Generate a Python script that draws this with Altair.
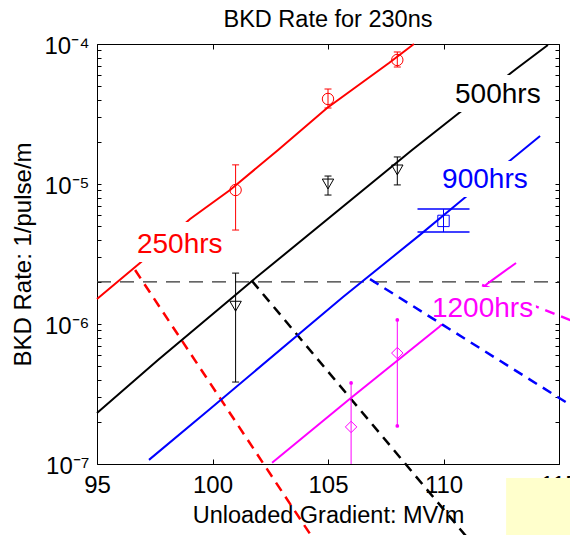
import math
import altair as alt
import pandas as pd

FONT = "Liberation Sans"

# ---------------- series ----------------
series_names = ["250hrs", "500hrs", "900hrs", "1200hrs"]
series_colors = ["#ff0000", "#000000", "#0000ff", "#ff00ff"]
series_shapes = ["circle", "triangle-down", "square", "diamond"]

# ---------------- fitted curves (solid) ----------------
fit250_x = [95.00, 96.86, 99.03, 100.76, 102.84, 104.96, 107.64, 108.72]
fit250_y = [1.51e-6, 2.73e-6, 5.62e-6, 9.06e-6, 1.75e-5, 3.49e-5, 7.31e-5, 1.00e-4]
fit500_x = [95.00, 97.64, 100.89, 101.71, 108.64, 110.67, 113.14, 114.52]
fit500_y = [2.31e-7, 5.53e-7, 1.56e-6, 2.03e-6, 1.75e-5, 3.21e-5, 6.63e-5, 9.84e-5]
fit900_x = [97.25, 99.89, 105.65, 108.98, 110.80, 114.18]
fit900_y = [1.07e-7, 2.47e-7, 1.56e-6, 4.33e-6, 7.69e-6, 2.20e-5]
fit1200_x = [102.58, 105.99, 109.81, 111.93, 113.14]
fit1200_y = [1.02e-7, 2.96e-7, 9.52e-7, 1.96e-6, 2.73e-6]

# ---------------- extrapolations (dashed) ----------------
ext250_x = [96.65, 104.48]
ext250_y = [2.43e-6, 2.73e-8]
ext500_x = [101.71, 111.19]
ext500_y = [2.03e-6, 2.77e-8]
ext900_x = [106.82, 115.91]
ext900_y = [2.09e-6, 2.39e-7]
ext1200_x = [111.67, 115.91]
ext1200_y = [1.90e-6, 1.00e-6]

threshold_x = [95, 115]
threshold_rate = 2.0e-6

# ---------------- measurements ----------------
meas_series = ["250hrs"] * 3 + ["500hrs"] * 3 + ["900hrs"] + ["1200hrs"] * 2
meas_x = [101, 105, 108, 101, 105, 108, 110, 106, 108]
meas_y = [9.06e-6, 4.05e-5, 7.69e-5, 1.34e-6, 1.00e-5, 1.26e-5, 5.45e-6, 1.84e-7, 6.20e-7]
meas_lo = [4.69e-6, 3.49e-5, 6.85e-5, 3.85e-7, 8.34e-6, 9.85e-6, 4.54e-6, 8.0e-8, 1.87e-7]
meas_hi = [1.37e-5, 4.77e-5, 8.77e-5, 2.31e-6, 1.14e-5, 1.56e-5, 6.62e-6, 3.79e-7, 1.07e-6]

# ---------------- curve labels ----------------
label_x = [96.73, 110.50, 109.94, 109.50]
label_y = [3.21e-6, 3.79e-5, 9.36e-6, 1.12e-6]
box_x0 = [96.60, 110.37, 109.81, 109.37]
box_x1 = [100.58, 114.35, 113.79, 114.00]
box_y0 = [2.77e-6, 3.27e-5, 8.07e-6, 1.00e-6]
box_y1 = [5.35e-6, 6.01e-5, 1.46e-5, 1.84e-6]

# chart title, placed centred just above the frame
chart_title = ["BKD Rate for 230ns"]
title_x = [105.0]
title_y = [1.32e-4]

# sticky note in the corner of the slide
note_x = [112.71, 117.0]
note_y = [7.94e-8, 1.0e-8]

# ---------------- axes ----------------
x_ticks = [95, 100, 105, 110, 115]
y_major = [1e-7, 1e-6, 1e-5, 1e-4]
y_major_labels = ["10⁻⁷", "10⁻⁶", "10⁻⁵", "10⁻⁴"]
y_ticks = [m * 10.0 ** e for e in (-7, -6, -5) for m in range(1, 10)] + [1e-4]

label_expr = "''"
for v, lab in zip(y_major, y_major_labels):
    p = round(math.log10(v))
    label_expr = f"abs(log(datum.value)/LN10 - ({p})) < 0.001 ? '{lab}' : " + label_expr

# ---------------- frames ----------------
fit_df = pd.concat([
    pd.DataFrame({"x": fx, "y": fy, "s": n})
    for fx, fy, n in [(fit250_x, fit250_y, "250hrs"), (fit500_x, fit500_y, "500hrs"),
                      (fit900_x, fit900_y, "900hrs"), (fit1200_x, fit1200_y, "1200hrs")]
], ignore_index=True)
ext_df = pd.concat([
    pd.DataFrame({"x": fx, "y": fy, "s": n})
    for fx, fy, n in [(ext250_x, ext250_y, "250hrs"), (ext500_x, ext500_y, "500hrs"),
                      (ext900_x, ext900_y, "900hrs"), (ext1200_x, ext1200_y, "1200hrs")]
], ignore_index=True)
thr_df = pd.DataFrame({"x": threshold_x, "y": [threshold_rate] * len(threshold_x)})
meas_df = pd.DataFrame({"s": meas_series, "x": meas_x, "y": meas_y, "lo": meas_lo, "hi": meas_hi})
cap_df = pd.concat([
    pd.DataFrame({"s": meas_series, "x": meas_x, "y": meas_lo}),
    pd.DataFrame({"s": meas_series, "x": meas_x, "y": meas_hi}),
], ignore_index=True)
label_df = pd.DataFrame({"s": series_names, "lx": label_x, "ly": label_y,
                         "bx0": box_x0, "bx1": box_x1, "by0": box_y0, "by1": box_y1})
title_df = pd.DataFrame({"t": chart_title, "x": title_x, "y": title_y})
note_df = pd.DataFrame({"x0": [note_x[0]], "x1": [note_x[1]], "y0": [note_y[0]], "y1": [note_y[1]]})

xs = alt.Scale(domain=[95, 115], nice=False, zero=False)
ys = alt.Scale(type="log", domain=[1e-7, 1e-4], nice=False)
col = alt.Color("s:N", scale=alt.Scale(domain=series_names, range=series_colors), legend=None)
shp = alt.Shape("s:N", scale=alt.Scale(domain=series_names, range=series_shapes), legend=None)

X0 = alt.X("x:Q", scale=xs, axis=None)
Y0 = alt.Y("y:Q", scale=ys, axis=None)

x_axis = alt.Axis(orient="bottom", values=x_ticks, format="d", title="Unloaded Gradient: MV/m",
                  grid=False, domain=False, offset=-5, tickSize=5, tickColor="black",
                  labelFontSize=24, labelFont=FONT, labelColor="black", labelPadding=9,
                  labelFlush=False, labelOverlap=False,
                  titleFontSize=23.5, titleFont=FONT, titleFontWeight="normal",
                  titleColor="black", titlePadding=6)
y_axis = alt.Axis(orient="left", values=y_ticks, labelExpr=label_expr, title="BKD Rate: 1/pulse/m",
                  grid=False, domain=False, offset=-4, tickSize=4, tickColor="black",
                  labelFontSize=24, labelFont=FONT, labelColor="black", labelPadding=8,
                  labelOffset=2, labelFlush=False, labelOverlap=False,
                  titleFontSize=24, titleFont=FONT, titleFontWeight="normal",
                  titleColor="black", titlePadding=8)
x_top = alt.Axis(orient="top", values=x_ticks, labels=False, title="", titlePadding=0, grid=False,
                 domain=False, offset=-5, tickSize=5, tickColor="black")
y_right = alt.Axis(orient="right", values=y_ticks, labels=False, title="", titlePadding=0, grid=False,
                   domain=False, offset=-4, tickSize=4, tickColor="black")

threshold = alt.Chart(thr_df).mark_line(color="#333333", strokeWidth=1.3, strokeDash=[14, 9]).encode(
    x=alt.X("x:Q", scale=xs, axis=x_axis),
    y=alt.Y("y:Q", scale=ys, axis=y_axis),
)

ext_main = alt.Chart(ext_df).transform_filter("datum.s != '900hrs'").mark_line(
    strokeWidth=2.5, strokeDash=[10, 7], clip=False).encode(x=X0, y=Y0, color=col)
ext_blue = alt.Chart(ext_df).transform_filter("datum.s == '900hrs'").mark_line(
    strokeWidth=2.5, strokeDash=[10, 7], clip=False).encode(x=X0, y=Y0, color=col)

fits = alt.Chart(fit_df).mark_line(strokeWidth=2).encode(x=X0, y=Y0, color=col)

boxes = alt.Chart(label_df).mark_rect(color="white").encode(
    x=alt.X("bx0:Q", scale=xs, axis=None), x2="bx1:Q",
    y=alt.Y("by0:Q", scale=ys, axis=None), y2="by1:Q")

texts = alt.Chart(label_df).mark_text(align="left", baseline="alphabetic", fontSize=28, font=FONT).encode(
    x=alt.X("lx:Q", scale=xs, axis=None), y=alt.Y("ly:Q", scale=ys, axis=None), text="s:N", color=col)

errs = alt.Chart(meas_df).mark_rule(strokeWidth=1, clip=True).encode(
    x=alt.X("x:Q", scale=xs, axis=x_top),
    y=alt.Y("lo:Q", scale=ys, axis=y_right), y2="hi:Q", color=col)

caps_small = alt.Chart(cap_df).transform_filter("datum.s == '250hrs' || datum.s == '500hrs'").mark_tick(
    orient="horizontal", size=7, thickness=1, clip=True, opacity=1).encode(x=X0, y=Y0, color=col)
caps_wide = alt.Chart(cap_df).transform_filter("datum.s == '900hrs'").mark_tick(
    orient="horizontal", size=52, thickness=1.5, clip=True, opacity=1).encode(x=X0, y=Y0, color=col)
caps_dot = alt.Chart(cap_df).transform_filter("datum.s == '1200hrs'").mark_circle(
    size=14, opacity=1, clip=True).encode(x=X0, y=Y0, color=col)

points = alt.Chart(meas_df).mark_point(filled=False, strokeWidth=1, size=130, opacity=1).encode(
    x=X0, y=Y0, color=col, shape=shp)

title_mark = alt.Chart(title_df).mark_text(
    align="center", baseline="alphabetic", fontSize=23.5, font=FONT, color="black", clip=False
).encode(x=X0, y=Y0, text="t:N")

note = alt.Chart(note_df).mark_rect(color="#ffffcc", clip=False).encode(
    x=alt.X("x0:Q", scale=xs, axis=None), x2="x1:Q",
    y=alt.Y("y0:Q", scale=ys, axis=None), y2="y1:Q")

chart = alt.layer(
    threshold, ext_main, fits, boxes, texts, ext_blue, errs, caps_small, caps_wide, caps_dot, points,
    title_mark, note
).resolve_axis(x="independent", y="independent").properties(
    width=462, height=420,
    autosize=alt.AutoSizeParams(type="none"),
    padding={"left": 89, "top": 36, "right": 11, "bottom": 71},
).configure_view(stroke="black", strokeWidth=1)

chart.save("out.html", embed_options={"renderer": "svg", "actions": False})
